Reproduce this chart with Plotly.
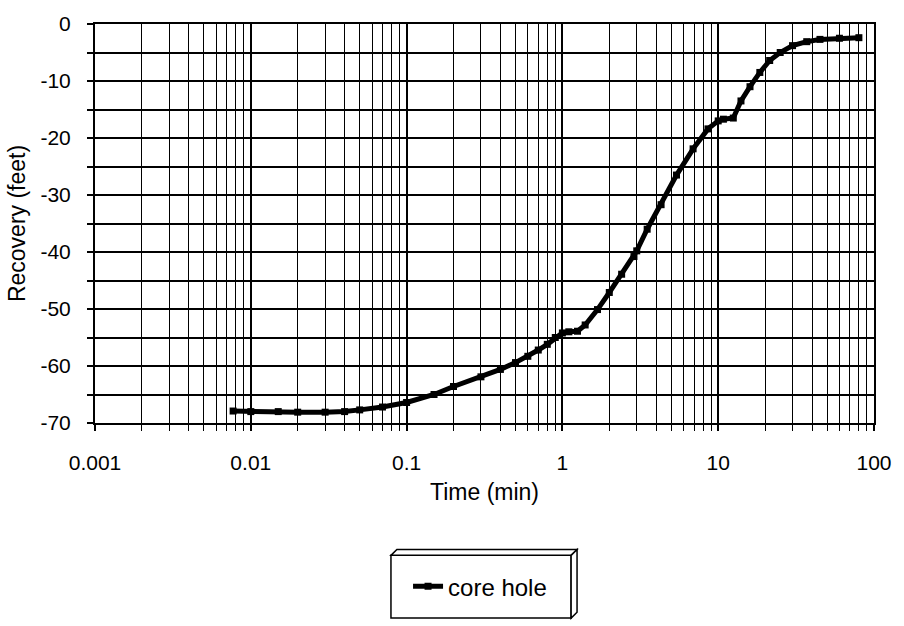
import plotly.graph_objects as go

# ---- data ----
time_min = [0.0077, 0.01, 0.015, 0.02, 0.03, 0.04, 0.05, 0.07, 0.1, 0.15, 0.2, 0.3,
            0.4, 0.5, 0.6, 0.7, 0.8, 0.9, 1.0, 1.1, 1.25, 1.4, 1.68, 2.0, 2.4, 2.88,
            3.0, 3.5, 4.3, 5.4, 6.9, 8.6, 10.0, 10.8, 12.5, 14.0, 16.0, 18.5, 21.4,
            25.0, 30.0, 37.0, 45.0, 60.0, 80.0]
recovery_ft = [-67.9, -68.0, -68.0, -68.1, -68.1, -68.0, -67.7, -67.2, -66.4, -65.0,
               -63.6, -61.9, -60.6, -59.4, -58.3, -57.2, -56.2, -55.0, -54.2, -54.0,
               -53.9, -52.8, -50.1, -47.1, -43.9, -40.8, -39.8, -36.0, -31.7, -26.5,
               -21.9, -18.4, -17.0, -16.7, -16.5, -13.5, -11.0, -8.5, -6.4, -5.0,
               -3.8, -3.1, -2.7, -2.5, -2.4]
series_name = "core hole"

x_tick_vals = [0.001, 0.01, 0.1, 1, 10, 100]
x_tick_text = ["0.001", "0.01", "0.1", "1", "10", "100"]
y_tick_vals = [0, -10, -20, -30, -40, -50, -60, -70]
y_tick_text = ["0", "-10", "-20", "-30", "-40", "-50", "-60", "-70"]

x_minor_vals = [m * d for d in (0.001, 0.01, 0.1, 1, 10) for m in range(2, 10)]

FONT = "Liberation Sans, Arial, sans-serif"

W, H = 904, 626
L, R, T, B = 95, 22, 16, 203
PW, PH = W - L - R, H - T - B


def px(xp):
    return (xp - L) / PW


def py(yp):
    return (H - B - yp) / PH


fig = go.Figure()
fig.add_trace(go.Scatter(
    x=time_min, y=recovery_ft, name=series_name, mode="lines+markers",
    line=dict(color="black", width=5),
    marker=dict(symbol="square", size=7, color="black"),
))

fig.update_layout(
    width=W, height=H,
    margin=dict(l=L, r=R, t=T, b=B),
    paper_bgcolor="white", plot_bgcolor="white",
    font=dict(family=FONT, color="black", size=21),
    showlegend=True,
    legend=dict(x=px(484), y=py(590), xanchor="center", yanchor="middle",
                bgcolor="rgba(0,0,0,0)", borderwidth=0,
                font=dict(family=FONT, size=24, color="black")),
)

fig.update_xaxes(
    type="log", range=[-3, 2],
    tickmode="array", tickvals=x_tick_vals, ticktext=x_tick_text,
    ticks="outside", ticklen=6, tickwidth=1.5, tickcolor="black",
    ticklabelstandoff=14,
    showgrid=True, gridcolor="black", gridwidth=1.5,
    minor=dict(tickmode="array", tickvals=x_minor_vals, ticks="outside", ticklen=6,
               tickwidth=1, tickcolor="black", showgrid=True, gridcolor="black",
               gridwidth=1.2),
    showline=True, linecolor="black", linewidth=2, mirror=True,
    zeroline=False,
    tickfont=dict(family=FONT, size=21, color="black"),
    title=dict(text="Time (min)", standoff=11,
               font=dict(family=FONT, size=23, color="black")),
)

fig.update_yaxes(
    range=[-70, 0],
    tickmode="array", tickvals=y_tick_vals, ticktext=y_tick_text,
    ticks="outside", ticklen=6, tickwidth=1.5, tickcolor="black",
    ticklabelstandoff=12,
    showgrid=True, gridcolor="black", gridwidth=2,
    minor=dict(dtick=5, ticks="outside", ticklen=6, tickwidth=1.5, tickcolor="black",
               showgrid=True, gridcolor="black", gridwidth=2),
    showline=True, linecolor="black", linewidth=2, mirror=True,
    zeroline=False,
    tickfont=dict(family=FONT, size=21, color="black"),
    title=dict(text="Recovery (feet)", standoff=8,
               font=dict(family=FONT, size=23, color="black")),
)

# 3-D style legend box
bx0, bx1, by0, by1, d = 394, 576, 558, 622, 6
fig.add_shape(type="rect", xref="paper", yref="paper",
              x0=px(bx0), x1=px(bx1), y0=py(by1), y1=py(by0),
              line=dict(color="black", width=1.5), fillcolor="rgba(0,0,0,0)")
top_face = (f"M {px(bx0)},{py(by0)} L {px(bx0 + d)},{py(by0 - d)} "
            f"L {px(bx1 + d)},{py(by0 - d)} L {px(bx1)},{py(by0)} Z")
right_face = (f"M {px(bx1)},{py(by0)} L {px(bx1 + d)},{py(by0 - d)} "
              f"L {px(bx1 + d)},{py(by1 - d)} L {px(bx1)},{py(by1)} Z")
for p in (top_face, right_face):
    fig.add_shape(type="path", path=p, xref="paper", yref="paper",
                  line=dict(color="black", width=1.5), fillcolor="white")

fig.write_html(
    "out.html",
    config={"displayModeBar": False},
    post_script="document.body.style.margin='0';document.body.style.overflow='hidden';",
)
